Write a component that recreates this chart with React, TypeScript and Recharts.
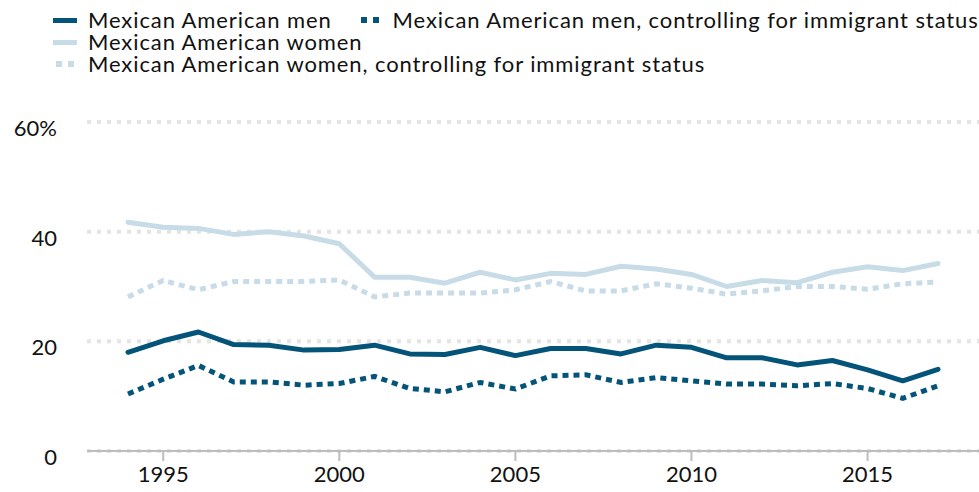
import { LineChart, Line, XAxis, YAxis, CartesianGrid } from "recharts";

const years = [
  1994, 1995, 1996, 1997, 1998, 1999, 2000, 2001, 2002, 2003, 2004, 2005,
  2006, 2007, 2008, 2009, 2010, 2011, 2012, 2013, 2014, 2015, 2016, 2017,
];
const menShare = [
  18.0, 20.1, 21.7, 19.4, 19.3, 18.4, 18.5, 19.3, 17.7, 17.6, 18.9, 17.4,
  18.7, 18.7, 17.7, 19.3, 18.9, 17.0, 17.0, 15.7, 16.5, 14.8, 12.8, 14.9,
];
const menControlled = [
  10.4, 13.1, 15.6, 12.6, 12.6, 12.0, 12.3, 13.6, 11.4, 10.8, 12.5, 11.3,
  13.7, 13.9, 12.5, 13.4, 12.8, 12.2, 12.2, 11.9, 12.3, 11.4, 9.6, 11.9,
];
const womenShare = [
  41.7, 40.8, 40.6, 39.5, 40.0, 39.2, 37.8, 31.7, 31.7, 30.6, 32.6, 31.2,
  32.4, 32.2, 33.7, 33.2, 32.2, 30.0, 31.1, 30.7, 32.6, 33.6, 32.9, 34.2,
];
const womenControlled = [
  28.1, 31.1, 29.4, 30.9, 30.9, 30.9, 31.2, 28.1, 28.8, 28.8, 28.8, 29.4,
  30.9, 29.2, 29.2, 30.5, 29.7, 28.6, 29.2, 30.0, 30.0, 29.5, 30.5, 30.8,
];
const xTicks = [1995, 2000, 2005, 2010, 2015];
const yTicks = [0, 20, 40, 60];

const DARK = "#04547a";
const LIGHT = "#c8dce8";
const FONT = "Lato, 'Open Sans', sans-serif";

const data = years.map((year, i) => ({
  year,
  men: menShare[i],
  menCtl: menControlled[i],
  women: womenShare[i],
  womenCtl: womenControlled[i],
}));

const legendRows = [
  [
    { label: "Mexican American men", color: DARK, dotted: false },
    { label: "Mexican American men, controlling for immigrant status", color: DARK, dotted: true },
  ],
  [{ label: "Mexican American women", color: LIGHT, dotted: false }],
  [{ label: "Mexican American women, controlling for immigrant status", color: LIGHT, dotted: true }],
];

function Swatch({ color, dotted }: { color: string; dotted: boolean }) {
  if (dotted) {
    return (
      <span style={{ display: "inline-flex", gap: 6, width: 24, marginRight: 11, justifyContent: "center" }}>
        <span style={{ width: 6, height: 6, background: color }} />
        <span style={{ width: 6, height: 6, background: color }} />
      </span>
    );
  }
  return <span style={{ display: "inline-block", width: 24, height: 5, background: color, marginRight: 11 }} />;
}

// legend sits above the plot, outside the chart's own offset calculation
function ChartLegend() {
  return (
    <div
      style={{
        position: "absolute",
        left: 53,
        top: 9,
        width: 926,
        whiteSpace: "nowrap",
        fontSize: 22,
        lineHeight: "22px",
        letterSpacing: "0.9px",
        color: "#111",
      }}
    >
      {legendRows.map((row, r) => (
        <div key={r} style={{ display: "flex", alignItems: "center", height: 22, gap: 26 }}>
          {row.map((item) => (
            <span key={item.label} style={{ display: "inline-flex", alignItems: "center", flexShrink: 0 }}>
              <Swatch color={item.color} dotted={item.dotted} />
              <span>{item.label}</span>
            </span>
          ))}
        </div>
      ))}
    </div>
  );
}

function YTick({ x, y, payload }: any) {
  return (
    <text x={x - 30} y={y} dy={14} textAnchor="end" fontSize={22} fill="#111" fontFamily={FONT}>
      {payload.value === 60 ? "60%" : payload.value}
    </text>
  );
}

function XTick({ x, y, payload }: any) {
  return (
    <text x={x} y={y} dy={19} textAnchor="middle" fontSize={22} fill="#111" fontFamily={FONT}>
      {payload.value}
    </text>
  );
}

export default function App() {
  return (
    <div style={{ position: "absolute", left: 0, top: 0, width: 979, height: 492, background: "#fff", fontFamily: FONT }}>
      <ChartLegend />
      <LineChart width={979} height={492} data={data} margin={{ top: 122, right: 0, bottom: 0, left: 0 }}>
        <CartesianGrid vertical={false} stroke="#e4e4e4" strokeWidth={4} strokeDasharray="4 6" />
        <XAxis
          dataKey="year"
          type="number"
          domain={[1994, 2017]}
          ticks={xTicks}
          padding={{ left: 41, right: 41 }}
          height={41}
          axisLine={{ stroke: "#bdbdbd", strokeWidth: 2 }}
          tickLine={{ stroke: "#bdbdbd", strokeWidth: 2 }}
          tickSize={10}
          tick={<XTick />}
        />
        <YAxis
          domain={[0, 60]}
          ticks={yTicks}
          width={87}
          axisLine={false}
          tickLine={false}
          tickSize={0}
          tickMargin={0}
          tick={<YTick />}
        />
        <Line dataKey="womenCtl" stroke={LIGHT} strokeWidth={5} strokeDasharray="6 5" dot={false} isAnimationActive={false} />
        <Line dataKey="women" stroke={LIGHT} strokeWidth={5} strokeLinecap="round" strokeLinejoin="round" dot={false} isAnimationActive={false} />
        <Line dataKey="menCtl" stroke={DARK} strokeWidth={5} strokeDasharray="6 5" dot={false} isAnimationActive={false} />
        <Line dataKey="men" stroke={DARK} strokeWidth={5} strokeLinecap="round" strokeLinejoin="round" dot={false} isAnimationActive={false} />
      </LineChart>
    </div>
  );
}
